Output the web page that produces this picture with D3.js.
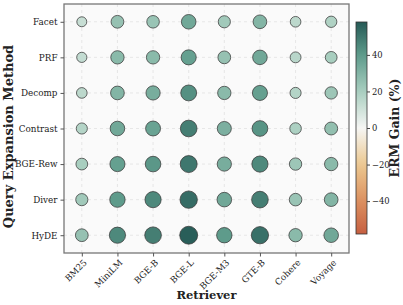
<!DOCTYPE html>
<html>
<head>
<script src="https://d3js.org/d3.v7.min.js"></script>
<style>
  body { margin: 0; background: #fff; }
  svg { display: block; }
  text { font-family: "DejaVu Serif", serif; fill: #222; }
</style>
</head>
<body>
<svg width="403" height="305"></svg>
<script>
var retrievers = ["BM25", "MiniLM", "BGE-B", "BGE-L", "BGE-M3", "GTE-B", "Cohere", "Voyage"];
var methods = ["Facet", "PRF", "Decomp", "Contrast", "BGE-Rew", "Diver", "HyDE"];

// ERM gain (%) per method, one value per retriever
var facet    = [12, 25, 24, 35, 22, 30, 15, 18];
var prf      = [13, 28, 28, 38, 25, 35, 16, 20];
var decomp   = [15, 30, 33, 43, 28, 38, 17, 23];
var contrast = [17, 35, 37, 48, 32, 42, 19, 26];
var bgeRew   = [20, 38, 41, 50, 33, 45, 23, 28];
var diver    = [22, 40, 45, 53, 35, 48, 24, 30];
var hyde     = [25, 45, 48, 57, 40, 52, 28, 35];
var gains = [facet, prf, decomp, contrast, bgeRew, diver, hyde];

var cbTicks = [-40, -20, 0, 20, 40];
var vmin = -58, vmax = 58;

var svg = d3.select("svg");
var pLeft = 64, pRight = 349, pTop = 4, pBottom = 253;

var x = d3.scalePoint().domain(retrievers).range([pLeft, pRight]).padding(0.5);
var y = d3.scalePoint().domain(methods).range([pTop, pBottom]).padding(0.5);

var color = d3.scaleLinear()
  .domain([-58, -40, -20, 0, 20, 40, 58])
  .range(["#c65f41", "#dc9060", "#ecc890", "#f6f6f4", "#a8cebf", "#5e9b8b", "#265a56"])
  .interpolate(d3.interpolateRgb);
var area = d3.scaleLinear().domain([0, 60]).range([10, 84]);

// plot background
svg.append("rect").attr("x", pLeft).attr("y", pTop)
  .attr("width", pRight - pLeft).attr("height", pBottom - pTop)
  .attr("fill", "#fafafa");

// grid
var grid = svg.append("g").attr("stroke", "#dedede").attr("stroke-width", 0.7).attr("stroke-dasharray", "3,3");
grid.selectAll(".gx").data(retrievers).enter().append("line")
  .attr("x1", function(d) { return x(d); }).attr("x2", function(d) { return x(d); })
  .attr("y1", pTop).attr("y2", pBottom);
grid.selectAll(".gy").data(methods).enter().append("line")
  .attr("y1", function(d) { return y(d); }).attr("y2", function(d) { return y(d); })
  .attr("x1", pLeft).attr("x2", pRight);

// bubbles
var pts = [];
methods.forEach(function(m, i) {
  retrievers.forEach(function(r, j) { pts.push({m: m, r: r, v: gains[i][j]}); });
});
svg.append("g").selectAll("circle").data(pts).enter().append("circle")
  .attr("cx", function(d) { return x(d.r); })
  .attr("cy", function(d) { return y(d.m); })
  .attr("r", function(d) { return Math.sqrt(area(d.v)); })
  .attr("fill", function(d) { return color(d.v); })
  .attr("stroke", "#3a3a3a").attr("stroke-width", 0.9).attr("stroke-opacity", 0.85);

// frame
svg.append("rect").attr("x", pLeft).attr("y", pTop)
  .attr("width", pRight - pLeft).attr("height", pBottom - pTop)
  .attr("fill", "none").attr("stroke", "#777").attr("stroke-width", 1.3);

// axes
var yAxis = svg.append("g").attr("transform", "translate(" + pLeft + ",0)")
  .call(d3.axisLeft(y).tickSize(3.5).tickPadding(3));
var xAxis = svg.append("g").attr("transform", "translate(0," + pBottom + ")")
  .call(d3.axisBottom(x).tickSize(3.5).tickPadding(3));
[yAxis, xAxis].forEach(function(a) {
  a.select(".domain").remove();
  a.selectAll("line").attr("stroke", "#555");
  a.selectAll("text").style("font-family", "DejaVu Serif").attr("font-size", 8.8).attr("fill", "#222");
});
xAxis.selectAll("text")
  .attr("text-anchor", "end")
  .attr("x", 0).attr("y", 0)
  .attr("dy", "0.35em")
  .attr("transform", "translate(3,8) rotate(-45)");

svg.append("text").attr("x", (pLeft + pRight) / 2).attr("y", 299)
  .attr("text-anchor", "middle").attr("font-weight", "bold").attr("font-size", 11.5)
  .text("Retriever");
svg.append("text").attr("transform", "translate(13," + ((pTop + pBottom) / 2 + 8) + ") rotate(-90)")
  .attr("text-anchor", "middle").attr("font-weight", "bold").attr("font-size", 13)
  .text("Query Expansion Method");

// colorbar
var cbX = 356, cbW = 11, cbTop = 22, cbBot = 234;
var cy = d3.scaleLinear().domain([vmin, vmax]).range([cbBot, cbTop]);
var grad = svg.append("defs").append("linearGradient").attr("id", "cb")
  .attr("x1", 0).attr("y1", 1).attr("x2", 0).attr("y2", 0);
d3.range(0, 21).forEach(function(i) {
  var v = vmin + (vmax - vmin) * i / 20;
  grad.append("stop").attr("offset", (i / 20)).attr("stop-color", color(v));
});
svg.append("rect").attr("x", cbX).attr("y", cbTop).attr("width", cbW).attr("height", cbBot - cbTop)
  .attr("fill", "url(#cb)").attr("stroke", "#333").attr("stroke-width", 0.8);
var cbAxis = svg.append("g").attr("transform", "translate(" + (cbX + cbW) + ",0)")
  .call(d3.axisRight(cy).tickValues(cbTicks).tickSize(3).tickPadding(2)
    .tickFormat(function(d) { return d < 0 ? "\u2212" + Math.abs(d) : d; }));
cbAxis.select(".domain").remove();
cbAxis.selectAll("line").attr("stroke", "#444");
cbAxis.selectAll("text").style("font-family", "DejaVu Serif").attr("font-size", 8.4).attr("fill", "#222");
svg.append("text").attr("transform", "translate(399," + ((cbTop + cbBot) / 2) + ") rotate(-90)")
  .attr("text-anchor", "middle").attr("font-weight", "bold").attr("font-size", 12.5)
  .text("ERM Gain (%)");
</script>
</body>
</html>
